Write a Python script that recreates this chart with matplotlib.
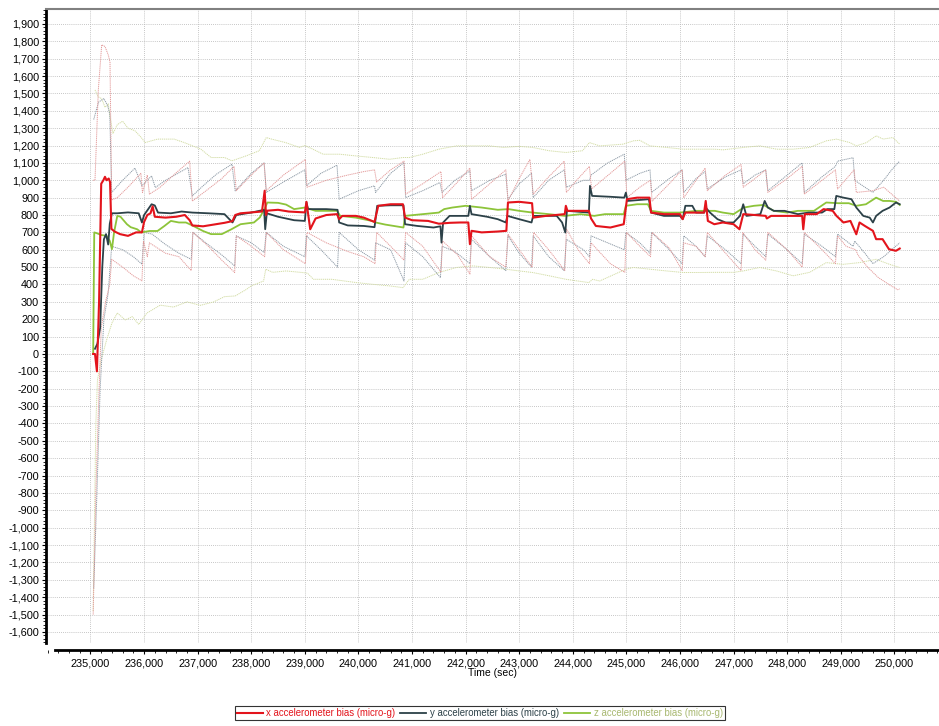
import matplotlib
matplotlib.use("Agg")
import matplotlib.pyplot as plt
from matplotlib.ticker import FuncFormatter, MultipleLocator

# ---------------- DATA ----------------

t_x_bias = [235050, 235084, 235120, 235160, 235200, 235240, 235270, 235300, 235340, 235365,
            235390, 235450, 235550, 235700, 235850, 235960, 236000, 236060, 236120, 236160,
            236200, 236400, 236600, 236760, 236850, 236900, 237100, 237300, 237500, 237650,
            237700, 237800, 238000, 238200, 238250, 238275, 238300, 238500, 238700, 239000,
            239030, 239100, 239200, 239400, 239600, 239640, 239700, 239950, 240100, 240300,
            240370, 240600, 240830, 240870, 241000, 241300, 241500, 241700, 241900, 242050,
            242080, 242110, 242300, 242600, 242760, 242790, 243000, 243240, 243260, 243500,
            243850, 243870, 243900, 244300, 244340, 244430, 244700, 244950, 245010, 245200,
            245430, 245460, 245700, 246000, 246050, 246100, 246450, 246480, 246520, 246640,
            246800, 247000, 247110, 247180, 247400, 247600, 247620, 247700, 248000, 248280,
            248300, 248330, 248550, 248680, 248850, 248920, 249050, 249180, 249290, 249350,
            249450, 249600, 249660, 249780, 249900, 250030, 250100]
x_bias = [0, 0, -100, 300, 980, 1000, 1020, 1000, 1010, 990,
          720, 705, 690, 680, 700, 700, 760, 800, 810, 850,
          790, 785, 790, 800, 770, 740, 735, 745, 755, 765,
          800, 810, 815, 820, 940, 800, 825, 830, 820, 815,
          876, 718, 780, 800, 805, 776, 795, 795, 785, 760,
          853, 862, 862, 785, 770, 766, 750, 755, 757, 757,
          632, 709, 700, 705, 709, 872, 876, 868, 785, 795,
          805, 853, 824, 824, 780, 737, 728, 747, 891, 900,
          900, 814, 805, 805, 776, 814, 814, 881, 766, 747,
          757, 747, 718, 805, 800, 795, 780, 795, 795, 795,
          718, 805, 805, 834, 824, 795, 757, 766, 689, 757,
          737, 709, 661, 661, 603, 594, 607]

t_y_bias = [235084, 235130, 235180, 235220, 235250, 235290, 235330, 235360, 235400, 235500,
            235700, 235900, 235960, 236000, 236140, 236200, 236260, 236500, 236700, 236900,
            237200, 237500, 237650, 237720, 238000, 238240, 238260, 238290, 238500, 238800,
            239000, 239030, 239060, 239400, 239610, 239640, 239800, 240100, 240300, 240350,
            240600, 240840, 240870, 241100, 241400, 241530, 241550, 241580, 241700, 242050,
            242080, 242110, 242400, 242600, 242750, 242780, 243000, 243230, 243260, 243700,
            243800, 243860, 243890, 244300, 244320, 244360, 244700, 244960, 244990, 245020,
            245420, 245460, 245700, 246000, 246050, 246100, 246230, 246300, 246450, 246480,
            246560, 246700, 246850, 247000, 247120, 247180, 247240, 247500, 247580, 247640,
            247750, 247950, 248200, 248400, 248650, 248750, 248880, 248916, 249050, 249200,
            249290, 249420, 249540, 249600, 249660, 249780, 249910, 250030, 250100]
y_bias = [30, 60, 150, 500, 660, 690, 630, 750, 810, 810,
          815, 810, 757, 800, 862, 855, 814, 810, 820, 814,
          810, 805, 757, 800, 814, 830, 718, 810, 790, 770,
          766, 872, 834, 834, 830, 757, 740, 737, 730, 853,
          856, 856, 747, 737, 728, 735, 641, 757, 795, 795,
          853, 805, 790, 776, 757, 795, 776, 757, 795, 795,
          757, 699, 824, 814, 968, 910, 905, 900, 929, 881,
          891, 814, 795, 795, 776, 853, 853, 814, 814, 843,
          814, 776, 757, 757, 795, 862, 795, 805, 881, 843,
          824, 824, 805, 814, 814, 834, 834, 910, 900, 891,
          843, 795, 785, 757, 795, 824, 843, 872, 862]

t_z_bias = [235050, 235070, 235120, 235200, 235300, 235360, 235400, 235440, 235500, 235560,
            235680, 235750, 235870, 235950, 236100, 236250, 236380, 236500, 236650, 236780,
            236900, 237100, 237250, 237450, 237630, 237800, 238050, 238160, 238260, 238300,
            238500, 238650, 238800, 239000, 239200, 239600, 239660, 239950, 240250, 240320,
            240500, 240700, 240840, 240870, 241200, 241500, 241600, 241750, 242000, 242300,
            242600, 242800, 243000, 243250, 243550, 243850, 244150, 244400, 244600, 244950,
            244990, 245200, 245400, 245460, 245700, 246000, 246300, 246650, 246800, 247000,
            247190, 247380, 247560, 247750, 248000, 248200, 248500, 248730, 248950, 249150,
            249290, 249470, 249660, 249790, 249910, 250030, 250100]
z_bias = [0, 700, 695, 685, 680, 651, 603, 700, 795, 790,
          747, 730, 718, 700, 708, 708, 737, 766, 757, 757,
          740, 708, 690, 690, 718, 747, 757, 786, 843, 872,
          870, 860, 834, 843, 824, 824, 795, 785, 766, 757,
          745, 735, 728, 795, 805, 814, 834, 843, 853, 843,
          830, 834, 824, 814, 805, 795, 805, 795, 805, 805,
          853, 862, 862, 824, 814, 814, 824, 824, 814, 805,
          843, 853, 858, 824, 814, 824, 824, 872, 868, 868,
          853, 862, 900, 881, 881, 876, 858]

t_x_upper = [235050, 235084, 235146, 235209, 235271, 235333, 235364, 235395, 235500, 235700,
             235940, 235970, 236060, 236100, 236300, 236550, 236850, 236900, 237200, 237450,
             237680, 237720, 238000, 238240, 238280, 238600, 239010, 239040, 239400, 239800,
             240100, 240300, 240340, 240600, 240850, 240880, 241200, 241540, 241570, 241850,
             242080, 242110, 242450, 242750, 242790, 243000, 243200, 243260, 243550, 243840,
             243880, 244100, 244310, 244350, 244700, 244970, 245010, 245250, 245450, 245480,
             245800, 246040, 246070, 246300, 246470, 246510, 246850, 247140, 247180, 247400,
             247600, 247640, 248000, 248280, 248320, 248650, 248900, 248940, 249250, 249290,
             249600, 249800, 249950, 250100]
x_upper = [1000, 1000, 1520, 1780, 1770, 1720, 1680, 887, 900, 960,
           1040, 930, 1030, 920, 960, 1030, 1110, 880, 950, 1010,
           1080, 940, 1030, 1100, 940, 1030, 1120, 960, 1000, 1030,
           1050, 1060, 990, 1060, 1110, 920, 980, 1050, 900, 990,
           1070, 890, 980, 1060, 880, 1010, 1120, 920, 1020, 1110,
           930, 1010, 1080, 950, 1040, 1110, 900, 960, 1000, 880,
           980, 1060, 900, 1000, 1070, 940, 1030, 1090, 960, 1010,
           1060, 930, 1010, 1080, 920, 1000, 1060, 950, 1060, 930,
           940, 960, 920, 880]

t_x_lower = [235050, 235100, 235150, 235200, 235280, 235360, 235395, 235600, 235800, 235960,
             235990, 236060, 236100, 236400, 236650, 236880, 236910, 237200, 237450, 237690,
             237720, 238000, 238250, 238280, 238600, 239010, 239040, 239400, 239800, 240100,
             240310, 240340, 240600, 240850, 240880, 241200, 241540, 241570, 241850, 242080,
             242110, 242450, 242750, 242790, 243000, 243240, 243270, 243550, 243850, 243880,
             244100, 244310, 244340, 244700, 244970, 245000, 245250, 245450, 245480, 245800,
             246040, 246070, 246300, 246470, 246510, 246850, 247140, 247170, 247400, 247600,
             247640, 248000, 248280, 248320, 248650, 248900, 248940, 249100, 249280, 249320,
             249500, 249700, 249900, 250060, 250100]
x_lower = [-1500, -800, -300, 150, 300, 400, 545, 500, 450, 421,
           650, 560, 640, 580, 560, 480, 700, 620, 540, 469,
           680, 620, 560, 700, 600, 520, 700, 640, 590, 560,
           520, 700, 620, 540, 700, 620, 470, 650, 570, 460,
           680, 560, 500, 690, 600, 500, 700, 600, 480, 720,
           600, 520, 640, 520, 470, 700, 620, 560, 700, 610,
           480, 640, 620, 560, 700, 580, 480, 700, 600, 540,
           700, 600, 500, 700, 600, 520, 680, 620, 600, 570,
           500, 440, 400, 370, 375]

t_y_upper = [235060, 235150, 235250, 235320, 235360, 235395, 235600, 235830, 235960, 236140,
             236210, 236400, 236820, 236900, 237100, 237350, 237640, 237700, 238000, 238240,
             238280, 238600, 239000, 239030, 239300, 239600, 239640, 240000, 240300, 240320,
             240600, 240850, 240880, 241200, 241520, 241560, 241800, 242080, 242110, 242450,
             242750, 242790, 243000, 243230, 243260, 243550, 243840, 243880, 244200, 244310,
             244340, 244650, 244960, 244990, 245250, 245440, 245470, 245800, 246040, 246070,
             246300, 246470, 246510, 246850, 247140, 247180, 247400, 247600, 247640, 248000,
             248280, 248320, 248650, 248900, 248940, 249230, 249260, 249450, 249600, 249800,
             249950, 250080, 250100]
y_upper = [1350, 1450, 1470, 1430, 1380, 930, 1000, 1070, 968, 1025,
           958, 1000, 1073, 910, 968, 1035, 1093, 939, 1040, 1100,
           930, 990, 1060, 968, 1040, 1087, 891, 940, 968, 930,
           1040, 1102, 900, 940, 987, 930, 1000, 1054, 940, 1000,
           1035, 890, 980, 1040, 900, 1000, 1060, 960, 1000, 1000,
           1030, 1100, 1150, 1000, 1040, 1060, 930, 1010, 1060, 930,
           1010, 1050, 950, 1020, 1060, 980, 1030, 1060, 940, 1030,
           1100, 930, 1020, 1080, 1110, 1130, 1000, 960, 930, 1000,
           1060, 1105, 1100]

t_y_lower = [235060, 235120, 235180, 235250, 235330, 235395, 235600, 235800, 235960, 236000,
             236150, 236400, 236650, 236880, 236910, 237150, 237450, 237690, 237720, 238000,
             238240, 238280, 238600, 239000, 239030, 239300, 239610, 239640, 240000, 240300,
             240320, 240600, 240850, 240880, 241200, 241530, 241560, 241800, 242080, 242110,
             242450, 242750, 242790, 243000, 243230, 243260, 243550, 243840, 243880, 244200,
             244310, 244340, 244650, 244960, 244990, 245250, 245440, 245470, 245800, 246040,
             246070, 246300, 246470, 246510, 246850, 247140, 247180, 247400, 247600, 247640,
             248000, 248280, 248320, 248650, 248900, 248940, 249230, 249260, 249450, 249600,
             249800, 249950, 250100]
y_lower = [-1350, -800, -200, 200, 350, 620, 600, 560, 517, 700,
           690, 630, 580, 545, 700, 640, 570, 507, 680, 640,
           584, 700, 620, 560, 680, 600, 500, 700, 600, 540,
           640, 600, 420, 640, 560, 440, 620, 590, 520, 660,
           560, 480, 680, 580, 500, 680, 560, 480, 660, 600,
           560, 680, 640, 600, 700, 640, 580, 700, 600, 520,
           680, 620, 560, 680, 600, 520, 690, 620, 560, 690,
           600, 520, 690, 620, 560, 690, 620, 650, 580, 520,
           560, 600, 640]

t_z_upper = [235084, 235146, 235209, 235271, 235333, 235364, 235420, 235500, 235600, 235700,
             235830, 235950, 236020, 236250, 236560, 236750, 237060, 237250, 237500, 237640,
             237900, 238150, 238280, 238380, 238640, 238900, 239000, 239150, 239340, 239650,
             239960, 240270, 240580, 240830, 240950, 241200, 241500, 241830, 242140, 242450,
             242700, 243000, 243250, 243560, 243870, 244180, 244310, 244500, 244940, 245130,
             245250, 245440, 245750, 246060, 246370, 246650, 246800, 247180, 247490, 247800,
             248110, 248420, 248730, 248920, 249170, 249290, 249480, 249660, 249790, 249970,
             250100]
z_upper = [1520, 1480, 1470, 1420, 1440, 1365, 1270, 1320, 1340, 1300,
           1285, 1245, 1217, 1237, 1237, 1217, 1179, 1131, 1131, 1112,
           1140, 1170, 1246, 1237, 1217, 1189, 1200, 1179, 1150, 1150,
           1140, 1131, 1121, 1131, 1131, 1150, 1179, 1198, 1198, 1198,
           1189, 1195, 1189, 1170, 1160, 1170, 1217, 1198, 1208, 1227,
           1230, 1198, 1189, 1179, 1179, 1179, 1175, 1189, 1198, 1179,
           1179, 1189, 1227, 1237, 1217, 1198, 1217, 1256, 1237, 1246,
           1208]

t_z_lower = [235050, 235100, 235130, 235200, 235300, 235400, 235500, 235650, 235780, 235900,
             236050, 236300, 236550, 236800, 237050, 237300, 237500, 237700, 237900, 238000,
             238230, 238270, 238400, 238650, 238950, 239050, 239160, 239500, 239960, 240270,
             240580, 240830, 240950, 241200, 241500, 241830, 242140, 242450, 242750, 243000,
             243250, 243560, 243870, 244300, 244370, 244500, 244990, 245130, 245440, 245750,
             246060, 246370, 246650, 247000, 247180, 247490, 247800, 248110, 248420, 248730,
             249040, 249350, 249660, 249910, 250100]
z_lower = [-1480, -400, -150, -34, 80, 178, 236, 196, 215, 170,
           235, 281, 270, 300, 280, 300, 330, 334, 370, 392,
           420, 488, 470, 478, 469, 465, 430, 430, 411, 401,
           392, 382, 430, 430, 469, 498, 507, 498, 488, 478,
           469, 450, 430, 411, 430, 420, 488, 498, 488, 478,
           469, 469, 470, 470, 478, 498, 478, 450, 470, 526,
           516, 526, 545, 516, 498]

y_ticks = list(range(-1600, 2000, 100))
x_ticks = list(range(235000, 251000, 1000))

# ---------------- STYLE ----------------

RED = "#e3141c"
SLATE = "#2c4148"
GREEN = "#8dc43a"
RED_B = "#e39a9a"
SLATE_B = "#8d9aa6"
GREEN_B = "#d2dca4"

plt.rcParams["font.family"] = ["Liberation Sans", "DejaVu Sans"]

fig = plt.figure(figsize=(9.39, 7.26), dpi=100)
ax = fig.add_axes([0.049, 0.1143, 0.951, 0.8733])

bound_style = dict(lw=0.7, linestyle=(0, (1.2, 0.8)))
ax.plot(t_z_upper, z_upper, color=GREEN_B, **bound_style)
ax.plot(t_z_lower, z_lower, color=GREEN_B, **bound_style)
ax.plot(t_y_upper, y_upper, color=SLATE_B, **bound_style)
ax.plot(t_y_lower, y_lower, color=SLATE_B, **bound_style)
ax.plot(t_x_upper, x_upper, color=RED_B, **bound_style)
ax.plot(t_x_lower, x_lower, color=RED_B, **bound_style)

lz, = ax.plot(t_z_bias, z_bias, color=GREEN, lw=1.3, label="z accelerometer bias (micro-g)")
ly, = ax.plot(t_y_bias, y_bias, color=SLATE, lw=1.3, label="y accelerometer bias (micro-g)")
lx, = ax.plot(t_x_bias, x_bias, color=RED, lw=1.5, label="x accelerometer bias (micro-g)")

ax.set_xlim(234170, 250833)
ax.set_ylim(-1664, 1986)

ax.set_xticks(x_ticks)
ax.set_yticks(y_ticks)
ax.xaxis.set_minor_locator(MultipleLocator(200))
ax.yaxis.set_minor_locator(MultipleLocator(20))
fmt = FuncFormatter(lambda v, p: f"{int(v):,}")
ax.xaxis.set_major_formatter(fmt)
ax.yaxis.set_major_formatter(fmt)

ax.tick_params(axis="both", which="major", labelsize=7.8, length=3, width=0.8, pad=2)
ax.tick_params(axis="both", which="minor", length=2, width=0.6)
ax.tick_params(axis="x", which="both", pad=3)

ax.grid(True, which="major", color="#b4b4b4", lw=0.6, linestyle=(0, (1, 1.5)))
ax.set_axisbelow(True)

ax.spines["right"].set_visible(False)
ax.spines["top"].set_color("#808080")
ax.spines["top"].set_linewidth(1.5)
ax.spines["left"].set_linewidth(2)
ax.spines["bottom"].set_linewidth(2)
ax.spines["bottom"].set_position(("outward", 5))
ax.spines["bottom"].set_bounds(234330, 250833)

ax.set_xlabel("Time (sec)", fontsize=7.5, labelpad=0)

leg = fig.legend(handles=[lx, ly, lz], loc="center", bbox_to_anchor=(0.511, 0.0175),
                 ncol=3, fontsize=6.9, frameon=True, fancybox=False, edgecolor="black",
                 handlelength=2.7, handletextpad=0.4, columnspacing=0.5,
                 borderpad=0.2, borderaxespad=0)
leg.get_frame().set_linewidth(0.8)
for txt, c in zip(leg.get_texts(), [RED, SLATE, "#a8b870"]):
    txt.set_color(c)

fig.savefig("out.png", dpi=100)
